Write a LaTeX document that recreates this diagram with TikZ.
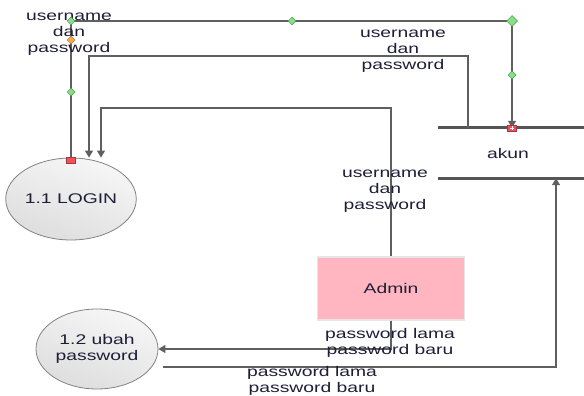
\documentclass[tikz,border=0pt]{standalone}
\usepackage{fontspec}
\setmainfont{Liberation Sans}[FakeStretch=1.38]
\usetikzlibrary{arrows.meta,shapes.geometric,calc}
\definecolor{linec}{RGB}{95,95,95}
\definecolor{storec}{RGB}{85,85,85}
\definecolor{txt}{RGB}{30,30,55}
\definecolor{procfill}{RGB}{238,238,238}
\definecolor{procdraw}{RGB}{130,130,130}
\definecolor{adminfill}{RGB}{255,182,193}
\definecolor{hgreen}{RGB}{140,220,140}
\definecolor{hgreend}{RGB}{60,160,60}
\definecolor{horange}{RGB}{250,170,80}
\definecolor{hred}{RGB}{240,80,90}
\begin{document}
\begin{tikzpicture}[x=1pt,y=-1pt,
  txtfont/.style={font=\fontsize{14}{16}\selectfont, text=txt},
  flow/.style={draw=linec, line width=1.2pt, -{Triangle[width=8pt,length=7pt]}},
  proc/.style={ellipse, draw=procdraw, top color=procfill!50!white, bottom color=procfill!93!black, shading angle=-20, line width=0.8pt,
    minimum width=122pt, minimum height=82pt, inner sep=0pt, align=center, txtfont},
  lbl/.style={align=center, inner sep=0pt, txtfont},
  handle/.style={diamond, draw=hgreend, fill=hgreen, line width=0.5pt,
    minimum size=8pt, inner sep=0pt},
  ohandle/.style={handle, draw=horange!70!black, fill=horange},
  rhandle/.style={rectangle, draw=hred!70!black, fill=hred, line width=0.5pt,
    minimum width=9pt, minimum height=6pt, inner sep=0pt},
  storeline/.style={draw=storec, line width=3pt}]
\useasboundingbox (0,0) rectangle (584,396);

% processes and entities
\node[proc] (login) at (71,199) {1.1 LOGIN};
\node[proc, minimum height=80pt] (ubah) at (97,349) {1.2 ubah\\password};
\node[rectangle, fill=adminfill, draw=white!90!black, line width=1.2pt,
  minimum width=147pt, minimum height=63pt, inner sep=0pt, txtfont] (admin) at (391,288.5) {Admin};

% data store akun
\node[rectangle, minimum width=146pt, minimum height=50pt, inner sep=0pt, txtfont] (akun) at (511,153) {};
\node[lbl] (akuntxt) at (508,153) {akun};
\draw[storeline] (akun.north west) -- (akun.north east);
\draw[storeline] (akun.south west) -- (akun.south east);

% connectors
\draw[flow] (login.north) |- (512,21) -- ([xshift=1pt]akun.north);
\draw[flow] ([xshift=-43pt]akun.north) |- (89,56) -- ([xshift=18pt]login.north);
\draw[flow] (admin.north) |- (101,108) -- ([xshift=30pt]login.north);
\draw[flow] (admin.south) |- (ubah.east);
\draw[flow] ($(ubah.east)+(5,18)$) -| ($(akun.south)+(45,0)$);

% labels
\node[lbl] (l1) at (69,34) {username\\dan\\password};
\node[lbl] (l2) at (403,51) {username\\dan\\password};
\node[lbl] (l3) at (385,191) {username\\dan\\password};
\node[lbl] (l4) at (390,343) {password lama\\password baru};
\node[lbl] (l5) at (312,381) {password lama\\password baru};

% selection handles
\node[handle] (h1) at (71,21) {};
\node[handle] (h2) at (292,21) {};
\node[handle, minimum size=11pt] (h3) at (512,21) {};
\node[handle] (h4) at (512,75) {};
\node[handle] (h5) at (71,92) {};
\node[ohandle] (h6) at (71,40) {};
\node[rhandle] (r1) at (71,160) {};
\node[rhandle] (r2) at (512,128) {};
\draw[white, line width=0.6pt] ($(r2.center)+(-2,0)$) -- ($(r2.center)+(2,0)$)
  ($(r2.center)+(0,-2)$) -- ($(r2.center)+(0,2)$);
\end{tikzpicture}
\end{document}
